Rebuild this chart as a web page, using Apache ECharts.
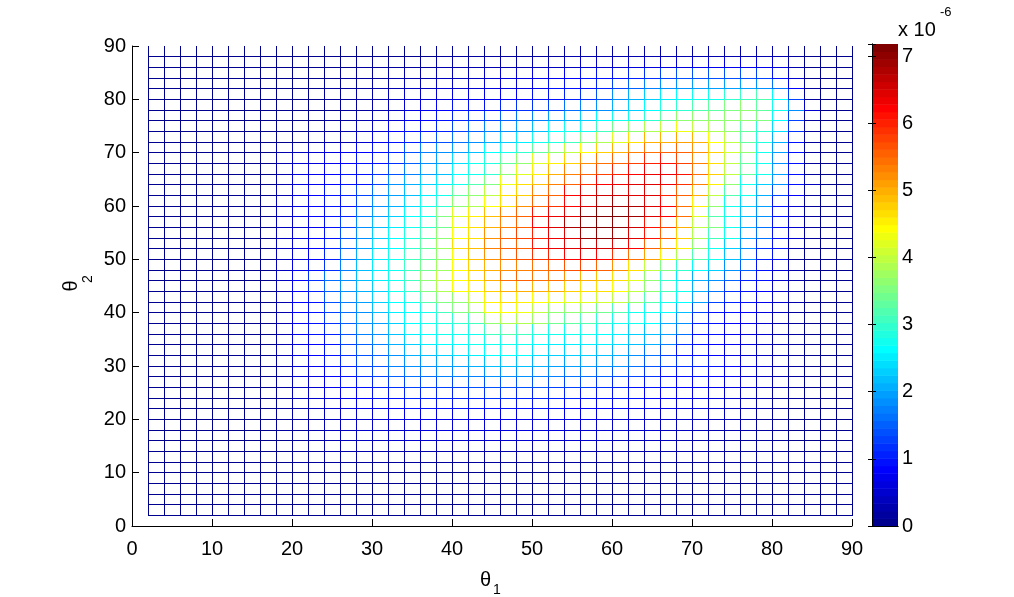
<!DOCTYPE html>
<html>
<head>
<meta charset="utf-8">
<title>mesh theta1 theta2</title>
<script src="https://cdn.jsdelivr.net/npm/echarts@6/dist/echarts.min.js"></script>
<style>
  html, body { margin: 0; padding: 0; background: #fff; }
  #chart { width: 1014px; height: 597px; }
</style>
</head>
<body>
<div id="chart"></div>
<script>
// grid nodes (degrees)
var theta1 = [2,4,6,8,10,12,14,16,18,20,22,24,26,28,30,32,34,36,38,40,42,44,46,48,50,52,54,56,58,60,62,64,66,68,70,72,74,76,78,80,82,84,86,88,90];
var theta2 = [2,4,6,8,10,12,14,16,18,20,22,24,26,28,30,32,34,36,38,40,42,44,46,48,50,52,54,56,58,60,62,64,66,68,70,72,74,76,78,80,82,84,86,88,90];
var axisTicks = [0,10,20,30,40,50,60,70,80,90];
var cbTicks = [0,1,2,3,4,5,6,7];
var cMax = 7.18; // colour limit (x 1e-6)

// values x 1e-6, one row per theta2 (2..88), columns theta1 (2..90)
var z = [
 [0.05,0.05,0.05,0.05,0.05,0.05,0.05,0.05,0.05, 0.05,0.05,0.05,0.05,0.05,0.05, 0.05,0.05,0.05,0.05,0.05,0.05,0.05,0.05,0.05,0.05,0.05,0.05,0.05,0.05, 0.05,0.05,0.05,0.05,0.05,0.05,0.05,0.05,0.05,0.05,0.05,0.05,0.05, 0.05,0.05,0.05],
 [0.05,0.05,0.05,0.05,0.05,0.05,0.05,0.05,0.05, 0.05,0.05,0.05,0.05,0.05,0.05, 0.05,0.05,0.05,0.05,0.05,0.05,0.05,0.05,0.05,0.05,0.05,0.05,0.05,0.05, 0.05,0.05,0.05,0.05,0.05,0.05,0.05,0.05,0.05,0.05,0.05,0.05,0.05, 0.05,0.05,0.05],
 [0.05,0.05,0.05,0.05,0.05,0.05,0.05,0.05,0.05, 0.05,0.05,0.05,0.05,0.05,0.05, 0.05,0.05,0.05,0.05,0.05,0.05,0.05,0.05,0.05,0.05,0.05,0.05,0.05,0.05, 0.05,0.05,0.05,0.05,0.05,0.05,0.05,0.05,0.05,0.05,0.05,0.05,0.05, 0.05,0.05,0.05],
 [0.05,0.05,0.05,0.05,0.05,0.05,0.05,0.05,0.05, 0.08,0.08,0.08,0.08,0.08,0.08, 0.08,0.08,0.08,0.08,0.08,0.08,0.08,0.08,0.08,0.08,0.08,0.08,0.08,0.08, 0.08,0.08,0.08,0.08,0.08,0.08,0.08,0.08,0.08,0.08,0.08,0.08,0.08, 0.05,0.05,0.05],
 [0.05,0.05,0.05,0.05,0.05,0.05,0.05,0.05,0.05, 0.1,0.1,0.1,0.1,0.1,0.1, 0.1,0.1,0.1,0.1,0.1,0.1,0.1,0.1,0.1,0.1,0.1,0.1,0.1,0.1, 0.1,0.1,0.1,0.1,0.1,0.1,0.1,0.1,0.1,0.1,0.1,0.1,0.1, 0.05,0.05,0.05],
 [0.05,0.05,0.05,0.05,0.05,0.05,0.05,0.05,0.05, 0.12,0.12,0.12,0.2,0.2,0.2, 0.2,0.2,0.2,0.2,0.2,0.2,0.2,0.2,0.2,0.2,0.2,0.2,0.2,0.2, 0.2,0.2,0.2,0.2,0.2,0.2,0.12,0.12,0.12,0.12,0.12,0.12,0.12, 0.05,0.05,0.05],
 [0.05,0.05,0.05,0.05,0.05,0.05,0.05,0.05,0.1, 0.15,0.2,0.3,0.3,0.3,0.3, 0.3,0.3,0.3,0.3,0.3,0.3,0.3,0.3,0.3,0.3,0.3,0.3,0.3,0.3, 0.3,0.3,0.3,0.3,0.3,0.3,0.3,0.2,0.2,0.2,0.2,0.1,0.1, 0.05,0.05,0.05],
 [0.05,0.05,0.05,0.05,0.05,0.05,0.05,0.05,0.1, 0.2,0.25,0.3,0.35,0.4,0.42, 0.45,0.45,0.45,0.45,0.45,0.45,0.45,0.45,0.45,0.45,0.45,0.45,0.45,0.45, 0.42,0.4,0.38,0.35,0.32,0.3,0.26,0.22,0.18,0.14,0.12,0.1,0.08, 0.05,0.05,0.05],
 [0.05,0.05,0.05,0.05,0.05,0.05,0.05,0.05,0.15, 0.22,0.27,0.34,0.42,0.48,0.5, 0.55,0.56,0.57,0.58,0.58,0.58,0.6,0.6,0.6,0.58,0.57,0.56,0.56,0.55, 0.52,0.5,0.46,0.44,0.4,0.37,0.32,0.28,0.23,0.18,0.13,0.1,0.08, 0.05,0.05,0.05],
 [0.05,0.05,0.05,0.05,0.05,0.05,0.05,0.05,0.15, 0.25,0.3,0.4,0.5,0.55,0.6, 0.7,0.7,0.72,0.72,0.72,0.72,0.75,0.75,0.72,0.72,0.7,0.7,0.7,0.68, 0.65,0.6,0.55,0.55,0.5,0.45,0.4,0.35,0.3,0.2,0.15,0.1,0.08, 0.05,0.05,0.05],
 [0.05,0.05,0.05,0.05,0.05,0.05,0.05,0.05,0.15, 0.3,0.4,0.5,0.6,0.7,0.75, 0.85,0.9,0.9,0.9,0.9,0.9,0.95,0.95,0.9,0.9,0.9,0.85,0.85,0.85, 0.8,0.75,0.7,0.7,0.65,0.6,0.5,0.4,0.35,0.25,0.2,0.1,0.08, 0.05,0.05,0.05],
 [0.05,0.05,0.05,0.05,0.05,0.05,0.05,0.05,0.15, 0.35,0.45,0.6,0.75,0.85,0.9, 1.0,1.05,1.1,1.1,1.1,1.1,1.15,1.15,1.1,1.1,1.05,1.05,1.0,1.0, 0.95,0.9,0.85,0.8,0.75,0.7,0.6,0.5,0.4,0.3,0.2,0.15,0.1, 0.05,0.05,0.05],
 [0.05,0.05,0.05,0.05,0.05,0.05,0.05,0.05,0.15, 0.4,0.5,0.7,0.9,1.0,1.1, 1.2,1.25,1.3,1.3,1.3,1.35,1.4,1.4,1.4,1.35,1.3,1.3,1.25,1.2, 1.1,1.0,0.95,0.9,0.85,0.8,0.7,0.6,0.5,0.35,0.25,0.2,0.1, 0.05,0.05,0.05],
 [0.05,0.05,0.05,0.05,0.05,0.05,0.05,0.05,0.15, 0.5,0.6,0.8,1.0,1.15,1.25, 1.5,1.6,1.6,1.7,1.7,1.7,1.8,1.8,1.8,1.7,1.7,1.6,1.6,1.5, 1.45,1.3,1.2,1.0,0.95,0.9,0.8,0.7,0.5,0.4,0.3,0.2,0.1, 0.05,0.05,0.05],
 [0.05,0.05,0.05,0.05,0.05,0.05,0.05,0.05,0.15, 0.5,0.7,0.9,1.1,1.3,1.45, 1.7,1.8,1.9,2.0,2.0,2.1,2.15,2.15,2.15,2.1,2.0,2.0,2.0,1.9, 1.8,1.6,1.4,1.3,1.2,1.1,0.9,0.8,0.6,0.5,0.3,0.2,0.1, 0.05,0.05,0.05],
 [0.05,0.05,0.05,0.05,0.05,0.05,0.05,0.1,0.3, 0.6,0.8,1.0,1.2,1.4,1.5, 1.9,2.1,2.2,2.3,2.4,2.5,2.6,2.6,2.6,2.4,2.3,2.3,2.3,2.2, 2.1,1.9,1.6,1.3,1.0,0.9,0.8,0.6,0.5,0.4,0.3,0.2,0.1, 0.05,0.05,0.05],
 [0.05,0.05,0.05,0.05,0.05,0.05,0.05,0.1,0.3, 0.6,0.8,1.0,1.3,1.5,1.7, 2.1,2.3,2.5,2.6,2.6,2.7,2.8,2.8,2.7,2.6,2.5,2.5,2.5,2.5, 2.4,2.2,2.1,1.7,1.2,0.9,0.8,0.7,0.6,0.4,0.3,0.2,0.1, 0.05,0.05,0.05],
 [0.05,0.05,0.05,0.05,0.05,0.05,0.05,0.1,0.3, 0.7,0.9,1.1,1.4,1.7,1.9, 2.2,2.5,2.6,2.7,2.7,2.8,3.1,3.2,3.1,2.9,2.8,2.7,2.7,2.6, 2.5,2.3,2.2,2.0,1.6,1.0,0.9,0.7,0.6,0.5,0.3,0.2,0.1, 0.05,0.05,0.05],
 [0.05,0.05,0.05,0.05,0.05,0.05,0.05,0.1,0.3, 0.7,0.9,1.2,1.5,1.8,2.0, 2.3,2.6,2.8,2.9,3.0,3.1,3.7,3.9,3.9,3.8,3.4,3.3,3.2,3.0, 2.8,2.7,2.6,2.1,1.8,1.1,0.9,0.8,0.7,0.5,0.3,0.2,0.1, 0.05,0.05,0.05],
 [0.05,0.05,0.05,0.05,0.05,0.05,0.05,0.1,0.3, 0.8,1.0,1.3,1.6,1.9,2.15, 2.5,2.6,2.8,3.1,3.5,3.7,4.3,4.4,4.3,4.0,3.7,3.6,3.6,3.4, 3.2,2.8,2.7,2.6,2.2,1.3,1.0,0.9,0.8,0.6,0.4,0.2,0.1, 0.05,0.05,0.05],
 [0.05,0.05,0.05,0.05,0.05,0.05,0.05,0.1,0.3, 0.8,1.0,1.4,1.7,2.0,2.25, 2.6,2.8,3.2,3.5,3.7,4.0,4.5,4.6,4.5,4.4,4.3,4.2,4.2,4.1, 4.0,3.6,3.2,2.8,2.6,2.0,1.3,1.1,0.9,0.7,0.5,0.3,0.1, 0.05,0.05,0.05],
 [0.05,0.05,0.05,0.05,0.05,0.05,0.05,0.1,0.3, 0.8,1.1,1.5,1.8,2.1,2.35, 2.7,3.0,3.5,3.9,4.4,4.5,4.8,5.0,5.0,5.0,5.0,4.8,4.7,4.6, 4.4,4.0,3.6,3.1,2.7,2.1,1.6,1.2,1.0,0.8,0.5,0.3,0.1, 0.05,0.05,0.05],
 [0.05,0.05,0.05,0.05,0.05,0.05,0.05,0.1,0.35, 0.8,1.2,1.6,1.9,2.2,2.5, 2.7,3.1,3.6,4.0,4.4,4.6,5.0,5.4,5.5,5.4,5.4,5.2,5.0,4.9, 4.7,4.2,3.6,3.0,2.5,2.1,1.8,1.5,1.1,0.9,0.5,0.3,0.1, 0.05,0.05,0.05],
 [0.05,0.05,0.05,0.05,0.05,0.05,0.05,0.1,0.35, 0.7,0.9,1.2,1.7,2.2,2.5, 2.7,3.1,3.4,3.8,4.4,4.8,5.0,5.2,5.3,5.4,5.5,5.7,5.8,5.6, 5.2,4.6,4.0,3.5,3.0,2.6,2.3,1.9,1.5,1.0,0.6,0.3,0.1, 0.05,0.05,0.05],
 [0.05,0.05,0.05,0.05,0.05,0.05,0.05,0.1,0.35, 0.6,0.8,1.1,1.6,2.1,2.5, 2.7,3.1,3.3,3.7,4.4,4.9,5.2,5.4,5.7,5.9,6.0,6.2,6.3,6.2, 5.9,5.4,5.1,4.5,3.9,3.2,2.7,2.2,1.8,1.1,0.9,0.2,0.1, 0.05,0.05,0.05],
 [0.05,0.05,0.05,0.05,0.05,0.05,0.05,0.1,0.35, 0.6,0.8,1.1,1.5,2.0,2.4, 2.6,3.0,3.3,3.8,4.6,4.9,5.3,5.5,5.6,6.1,6.3,6.5,6.6,6.6, 6.4,6.2,5.6,5.1,4.5,3.6,2.8,2.3,1.9,1.2,0.9,0.3,0.1, 0.05,0.05,0.05],
 [0.05,0.05,0.05,0.05,0.05,0.05,0.05,0.1,0.35, 0.6,0.8,1.0,1.4,1.9,2.3, 2.6,2.9,3.2,3.6,4.4,4.7,5.2,5.6,5.8,6.0,6.3,6.5,6.9,7.0, 6.9,6.4,6.1,5.6,4.8,3.9,3.1,2.7,2.0,1.6,1.0,0.5,0.2, 0.05,0.05,0.05],
 [0.05,0.05,0.05,0.05,0.05,0.05,0.05,0.1,0.35, 0.5,0.7,0.9,1.3,1.8,2.2, 2.5,2.8,3.0,3.4,4.3,4.7,5.0,5.3,5.5,6.2,6.4,6.8,7.0,7.1, 7.0,6.6,6.1,5.8,5.0,4.0,3.5,2.7,2.1,1.6,1.0,0.5,0.2, 0.05,0.05,0.05],
 [0.05,0.05,0.05,0.05,0.05,0.05,0.05,0.1,0.35, 0.6,0.8,0.9,1.1,1.6,2.0, 2.3,2.6,2.8,3.5,4.2,4.5,4.9,5.3,5.5,6.1,6.3,6.5,7.0,7.1, 7.1,6.9,6.4,6.2,5.4,4.2,3.2,2.7,2.2,1.8,1.0,0.5,0.2, 0.05,0.05,0.05],
 [0.05,0.05,0.05,0.05,0.05,0.05,0.05,0.1,0.35, 0.6,0.8,0.9,1.0,1.3,1.8, 2.1,2.4,2.7,3.0,3.6,3.9,4.4,4.7,5.2,5.5,5.9,6.2,6.5,6.8, 6.9,6.8,6.4,6.2,5.4,4.5,3.6,2.8,2.3,2.0,1.0,0.5,0.2, 0.05,0.05,0.05],
 [0.05,0.05,0.05,0.05,0.05,0.05,0.05,0.05,0.25, 0.6,0.8,0.9,1.1,1.3,1.6, 2.0,2.2,2.5,2.7,3.3,3.6,4.0,4.6,4.8,5.3,5.5,6.2,6.4,6.6, 6.6,6.5,6.4,6.0,5.5,5.0,4.0,3.2,2.7,2.1,1.3,0.8,0.2, 0.05,0.05,0.05],
 [0.05,0.05,0.05,0.05,0.05,0.05,0.05,0.05,0.25, 0.6,0.7,0.8,0.9,1.0,1.3, 1.8,2.1,2.3,2.5,2.7,3.2,3.5,4.3,4.6,4.9,5.3,5.5,5.9,6.2, 6.3,6.4,6.4,6.3,5.9,5.3,4.5,3.6,2.8,2.3,1.9,1.0,0.4, 0.05,0.05,0.05],
 [0.05,0.05,0.05,0.05,0.05,0.05,0.05,0.05,0.25, 0.6,0.7,0.8,0.9,1.0,1.2, 1.4,1.7,2.0,2.2,2.6,2.8,3.0,3.6,4.2,4.5,5.0,5.3,5.6,5.8, 6.0,6.2,6.3,6.3,6.1,5.4,4.8,4.0,3.3,2.7,2.0,1.0,0.2, 0.05,0.05,0.05],
 [0.05,0.05,0.05,0.05,0.05,0.05,0.05,0.05,0.25, 0.5,0.6,0.7,0.8,0.9,1.0, 1.2,1.5,1.8,2.0,2.4,2.7,2.9,3.3,3.6,4.2,4.5,4.8,5.2,5.4, 5.6,5.8,6.0,6.1,5.8,5.3,4.6,4.0,3.3,2.7,1.8,1.0,0.2, 0.05,0.05,0.05],
 [0.05,0.05,0.05,0.05,0.05,0.05,0.05,0.05,0.25, 0.4,0.5,0.6,0.7,0.8,0.9, 1.1,1.4,1.7,1.8,2.0,2.2,2.6,2.8,3.0,3.3,3.7,4.0,4.4,4.8, 5.0,5.3,5.4,5.6,5.5,5.2,4.8,4.1,3.6,2.7,2.0,1.0,0.2, 0.05,0.05,0.05],
 [0.05,0.05,0.05,0.05,0.05,0.05,0.05,0.05,0.1, 0.1,0.2,0.3,0.3,0.5,0.7, 0.9,1.1,1.3,1.4,1.6,1.8,2.1,2.3,2.5,2.7,2.9,3.1,3.5,3.9, 4.2,4.6,5.0,5.0,5.1,5.0,4.4,4.0,3.3,2.9,2.1,1.0,0.2, 0.05,0.05,0.05],
 [0.05,0.05,0.05,0.05,0.05,0.05,0.05,0.05,0.1, 0.1,0.2,0.2,0.3,0.4,0.5, 0.8,0.9,0.9,1.1,1.3,1.5,1.7,1.9,2.0,2.2,2.6,2.7,2.8,3.1, 3.4,3.6,3.9,4.0,4.3,4.0,3.9,3.6,3.3,3.0,2.4,1.2,0.2, 0.05,0.05,0.05],
 [0.05,0.05,0.05,0.05,0.05,0.05,0.05,0.05,0.1, 0.1,0.1,0.2,0.2,0.3,0.4, 0.5,0.7,0.8,0.9,1.1,1.2,1.3,1.5,1.6,1.7,2.0,2.1,2.3,2.6, 2.7,2.8,3.0,3.3,3.6,3.6,3.6,3.6,3.6,3.5,2.6,1.3,0.2, 0.05,0.05,0.05],
 [0.05,0.05,0.05,0.05,0.05,0.05,0.05,0.05,0.1, 0.1,0.1,0.1,0.2,0.2,0.3, 0.4,0.6,0.7,0.8,0.9,0.9,0.9,1.1,1.2,1.2,1.3,1.6,1.7,1.9, 2.1,2.3,2.6,2.9,3.0,3.2,3.3,3.5,3.6,3.3,2.7,1.9,0.5, 0.05,0.05,0.05],
 [0.05,0.05,0.05,0.05,0.05,0.05,0.05,0.05,0.1, 0.1,0.1,0.2,0.2,0.3,0.3, 0.4,0.5,0.5,0.6,0.7,0.7,0.7,0.8,0.8,1.0,1.0,1.1,1.2,1.4, 1.9,2.1,2.3,2.5,2.6,2.7,2.8,3.0,3.1,3.2,2.6,1.3,0.2, 0.05,0.05,0.05],
 [0.05,0.05,0.05,0.05,0.05,0.05,0.05,0.05,0.1, 0.1,0.1,0.2,0.2,0.2,0.3, 0.3,0.4,0.4,0.5,0.5,0.5,0.6,0.6,0.6,0.7,0.9,1.0,1.0,1.1, 1.3,1.5,1.7,1.8,1.9,2.0,2.0,2.0,2.0,1.8,1.6,0.8,0.2, 0.05,0.05,0.05],
 [0.05,0.05,0.05,0.05,0.05,0.05,0.05,0.05,0.1, 0.1,0.1,0.1,0.2,0.2,0.2, 0.3,0.3,0.3,0.4,0.4,0.4,0.5,0.6,0.6,0.7,0.7,0.8,0.9,0.9, 1.0,1.1,1.2,1.3,1.4,1.4,1.4,1.4,1.4,1.3,1.0,0.5,0.1, 0.05,0.05,0.05],
 [0.05,0.05,0.05,0.05,0.05,0.05,0.05,0.05,0.1, 0.1,0.1,0.1,0.1,0.2,0.2, 0.2,0.2,0.2,0.3,0.3,0.3,0.3,0.3,0.3,0.4,0.4,0.4,0.5,0.5, 0.5,0.6,0.6,0.6,0.6,0.7,0.7,0.7,0.7,0.7,0.6,0.3,0.1, 0.05,0.05,0.05],
 [0.05,0.05,0.05,0.05,0.05,0.05,0.05,0.05,0.1, 0.1,0.1,0.1,0.1,0.1,0.1, 0.1,0.1,0.1,0.2,0.2,0.2,0.2,0.2,0.2,0.2,0.2,0.3,0.3,0.3, 0.3,0.3,0.3,0.3,0.3,0.3,0.3,0.3,0.3,0.3,0.3,0.2,0.1, 0.05,0.05,0.05]
];

var FONT = '"Liberation Sans", Arial, Helvetica, sans-serif';

// MATLAB jet(64)
function jetColor(k) {
  var i = k + 1;
  function u(n) {
    if (n < 1 || n > 47) return 0;
    if (n <= 16) return n / 16;
    if (n <= 31) return 1;
    return (48 - n) / 16;
  }
  var r = Math.round(u(i - 24) * 255), g = Math.round(u(i - 8) * 255), b = Math.round(u(i + 8) * 255);
  return 'rgb(' + r + ',' + g + ',' + b + ')';
}
function levelOf(v) {
  return Math.max(0, Math.min(63, Math.floor(v / cMax * 64)));
}

var meshData = [];
for (var j = 0; j < z.length; j++) {
  if (z[j].length !== theta1.length) throw new Error('row ' + j + ' has ' + z[j].length);
  for (var i = 0; i < theta1.length; i++) {
    meshData.push([theta1[i], theta2[j], z[j][i],
      i + 1 < theta1.length ? theta1[i + 1] : null, theta2[j + 1]]);
  }
}

var cbData = [];
for (var k = 0; k < 64; k++) {
  cbData.push([k * cMax / 64, (k + 1) * cMax / 64, k]);
}

function renderMesh(params, api) {
  var x = api.value(0), y = api.value(1), v = api.value(2);
  var p0 = api.coord([x, y]);
  var color = jetColor(levelOf(v));
  var children = [];
  var px = Math.floor(p0[0]) + 0.5, py = Math.floor(p0[1]) + 0.5;
  var xn = meshData[params.dataIndex][3];
  var yn = meshData[params.dataIndex][4];
  if (xn != null) {
    var p1 = api.coord([xn, y]);
    children.push({ type: 'line', shape: { x1: Math.floor(p0[0]), y1: py, x2: Math.floor(p1[0]) + 1, y2: py },
      style: { stroke: color, lineWidth: 1 } });
  }
  if (yn != null) {
    var p2 = api.coord([x, yn]);
    children.push({ type: 'line', shape: { x1: px, y1: Math.floor(p0[1]) + 1, x2: px, y2: Math.floor(p2[1]) },
      style: { stroke: color, lineWidth: 1 } });
  }
  return { type: 'group', children: children };
}

function renderBar(params, api) {
  var lo = api.value(0), hi = api.value(1), k = api.value(2);
  var a = api.coord([0, hi]), b = api.coord([1, lo]);
  return { type: 'rect', shape: { x: a[0], y: a[1], width: b[0] - a[0], height: b[1] - a[1] + 0.5 },
    style: { fill: jetColor(k) } };
}

var chart = echarts.init(document.getElementById('chart'));
var mainAxis = {
  type: 'value', min: 0, max: 90, interval: 10,
  axisLine: { show: true, lineStyle: { color: '#000', width: 1 } },
  axisTick: { show: true, inside: true, length: 7, lineStyle: { color: '#000' } },
  splitLine: { show: false },
  axisLabel: { color: '#000', fontSize: 20, fontFamily: FONT, showMinLabel: true, showMaxLabel: true }
};
var cbAxis = {
  gridIndex: 1, type: 'value', min: 0, max: cMax, interval: 1, z: 5,
  axisLine: { show: true, lineStyle: { color: '#000', width: 1 } },
  axisTick: { show: true, inside: true, length: 4, lineStyle: { color: '#000' } },
  splitLine: { show: false }
};

chart.setOption({
  backgroundColor: '#fff',
  animation: false,
  grid: [
    { left: 132, top: 46, width: 720, height: 480 },
    { left: 872, top: 44, width: 26, height: 482 }
  ],
  xAxis: [
    Object.assign({}, mainAxis, { gridIndex: 0, position: 'bottom',
      axisLabel: Object.assign({}, mainAxis.axisLabel, { margin: 13 }) }),
    { gridIndex: 1, type: 'value', min: 0, max: 1, position: 'bottom', z: 5,
      axisLine: { show: true, lineStyle: { color: '#000' } }, axisTick: { show: false },
      axisLabel: { show: false }, splitLine: { show: false } },
    { gridIndex: 1, type: 'value', min: 0, max: 1, position: 'top', z: 5,
      axisLine: { show: true, lineStyle: { color: '#000' } }, axisTick: { show: false },
      axisLabel: { show: false }, splitLine: { show: false } }
  ],
  yAxis: [
    Object.assign({}, mainAxis, { gridIndex: 0, position: 'left',
      axisLabel: Object.assign({}, mainAxis.axisLabel, { margin: 6 }) }),
    Object.assign({}, cbAxis, { position: 'left', axisLabel: { show: false } }),
    Object.assign({}, cbAxis, { position: 'right',
      axisLabel: { show: true, color: '#000', fontSize: 20, fontFamily: FONT, margin: 4,
        formatter: function (v) { return cbTicks.indexOf(v) >= 0 ? String(v) : ''; } } })
  ],
  series: [
    { type: 'custom', xAxisIndex: 0, yAxisIndex: 0, renderItem: renderMesh,
      data: meshData, encode: { x: 0, y: 1 }, clip: false, silent: true },
    { type: 'custom', xAxisIndex: 1, yAxisIndex: 1, renderItem: renderBar,
      data: cbData, encode: { y: [0, 1] }, silent: true }
  ],
  graphic: [
    { type: 'text', x: 480, y: 580, style: { text: 'θ', fontSize: 20, fontFamily: FONT, fill: '#000', verticalAlign: 'middle' } },
    { type: 'text', x: 493, y: 590, style: { text: '1', fontSize: 14, fontFamily: FONT, fill: '#000', verticalAlign: 'middle' } },
    { type: 'text', x: 71, y: 286, rotation: Math.PI / 2,
      style: { text: 'θ', fontSize: 20, fontFamily: FONT, fill: '#000', align: 'center', verticalAlign: 'middle' } },
    { type: 'text', x: 88, y: 279, rotation: Math.PI / 2,
      style: { text: '2', fontSize: 14, fontFamily: FONT, fill: '#000', align: 'center', verticalAlign: 'middle' } },
    { type: 'text', x: 898, y: 30, style: { text: 'x 10', fontSize: 20, fontFamily: FONT, fill: '#000', verticalAlign: 'middle' } },
    { type: 'text', x: 940, y: 12, style: { text: '-6', fontSize: 13, fontFamily: FONT, fill: '#000', verticalAlign: 'middle' } }
  ]
});
</script>
</body>
</html>
